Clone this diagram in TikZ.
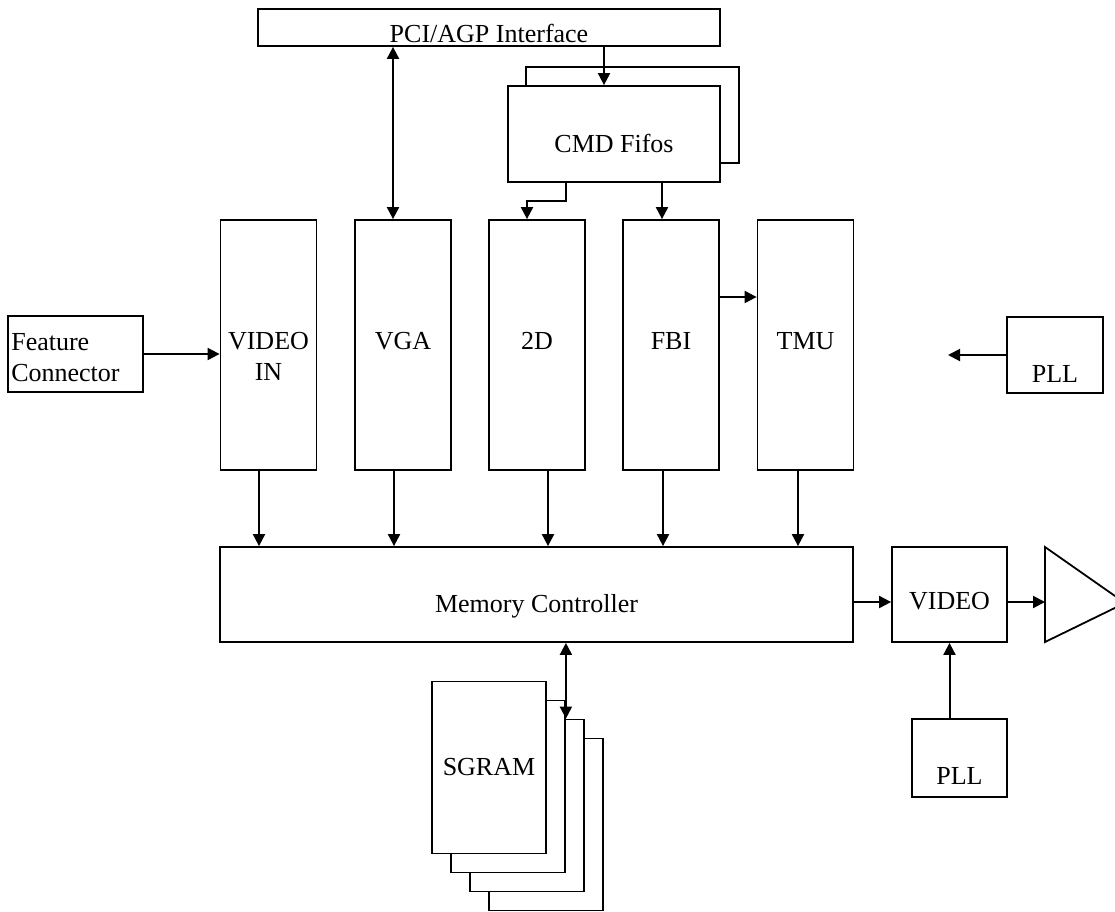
\documentclass[tikz,border=0pt]{standalone}
\usepackage{fontspec}
\setmainfont{Liberation Serif}
\usetikzlibrary{arrows.meta}

\begin{document}
\begin{tikzpicture}[
    x=1pt, y=-1pt,
    font=\fontsize{26}{31}\selectfont,
    box/.style={draw, line width=1.8pt, fill=white, inner sep=0pt},
    column/.style={box, minimum width=96pt, minimum height=250pt,
                   text height=9pt, text depth=0pt},
    sgram/.style={box, minimum width=114pt, minimum height=172pt},
    lowtext/.style={text height=30pt, text depth=0pt},
    link/.style={-{Triangle[length=12pt,width=12pt]}, line width=2pt},
    both/.style={{Triangle[length=12pt,width=12pt]}-{Triangle[length=12pt,width=12pt]},
                 line width=2pt},
  ]
    \useasboundingbox (0,0) rectangle (1115,911);

    % bus and command fifos
    \node[box, lowtext, minimum width=462pt, minimum height=37pt] (pci) at (489,27.5) {PCI/AGP Interface};
    \node[box, minimum width=213pt, minimum height=96pt] (cmdback) at (632.5,115) {};
    \node[box, text height=36pt, text depth=0pt, minimum width=212pt, minimum height=96pt] (cmd) at (614,134) {CMD Fifos};

    % engine columns
    \node[column] (vin) at (268.5,345) {};
    \node[align=center, inner sep=0pt] (vinlabel) at ([yshift=-11.5pt]vin.center) {VIDEO\\IN};
    \node[column] (vga) at (403,345) {VGA};
    \node[column] (twod) at (537,345) {2D};
    \node[column] (fbi) at (671,345) {FBI};
    \node[column] (tmu) at (805.5,345) {TMU};

    \node[box, minimum width=135pt, minimum height=76pt] (feat) at (75.5,354) {};
    \node[anchor=west, align=left, inner sep=0pt] (featlabel) at ([xshift=4pt,yshift=-3.5pt]feat.west) {Feature\\Connector};

    \node[box, minimum width=96pt, minimum height=76pt] (pllr) at (1055,355) {};
    \node[anchor=base] (pllrlabel) at ([yshift=11.5pt]pllr.south) {PLL};
    \coordinate (pllrend) at (948,355);

    % memory and video out
    \node[box, text height=36pt, text depth=0pt, minimum width=633pt, minimum height=95pt] (mc) at (536.5,594.5) {Memory Controller};
    \node[box, lowtext, minimum width=115pt, minimum height=95pt] (video) at (949.5,594.5) {VIDEO};
    \node[box, minimum width=95pt, minimum height=78pt] (pllb) at (959.5,758) {};
    \node[anchor=base] (pllblabel) at ([yshift=13.5pt]pllb.south) {PLL};

    \coordinate (amptop) at (1045,547);
    \coordinate (ampbot) at (1045,642);
    \coordinate (ampapex) at (1125,603);
    \draw[line width=1.8pt] (amptop) -- (ampapex) -- (ampbot) -- cycle;

    \foreach \i in {4,3,2,1}
      \node[sgram] (s\i) at ({489+19*(\i-1)},{767.5+19*(\i-1)}) {};
    \node (sgramlabel) at (s1.center) {SGRAM};

    % connections
    \draw[both] ([xshift=-10pt]vga.north |- pci.south) -- ([xshift=-10pt]vga.north);
    \draw[link] ([xshift=-10pt]cmd.north |- pci.south) -- ([xshift=-10pt]cmd.north);
    \draw[link] ([xshift=-48pt]cmd.south) -- ++(0,18) -| ([xshift=-10pt]twod.north);
    \draw[link] ([xshift=48pt]cmd.south) -- ([xshift=48pt]cmd.south |- fbi.north);
    \draw[link] ([yshift=48pt]fbi.east) -- ([yshift=48pt]tmu.west);
    \draw[link] (feat.east) -- (feat.east -| vin.west);
    \draw[link] (pllr.west) -- (pllrend);

    \foreach \col/\dx in {vin/-9.5, vga/-9, twod/11, fbi/-8, tmu/-7.5}
      \draw[link] ([xshift=\dx pt]\col.south) -- ([xshift=\dx pt]\col.south |- mc.north);

    \draw[link] ([yshift=-7.5pt]mc.east) -- ([yshift=-7.5pt]mc.east -| video.west);
    \draw[link] ([yshift=-7.5pt]video.east) -- ([yshift=-7.5pt]video.east -| amptop);
    \draw[link] (pllb.north -| video.south) -- (video.south);
    \draw[both] (mc.south -| s2.east) -- (s3.north -| s2.east);
  \end{tikzpicture}
\end{document}
